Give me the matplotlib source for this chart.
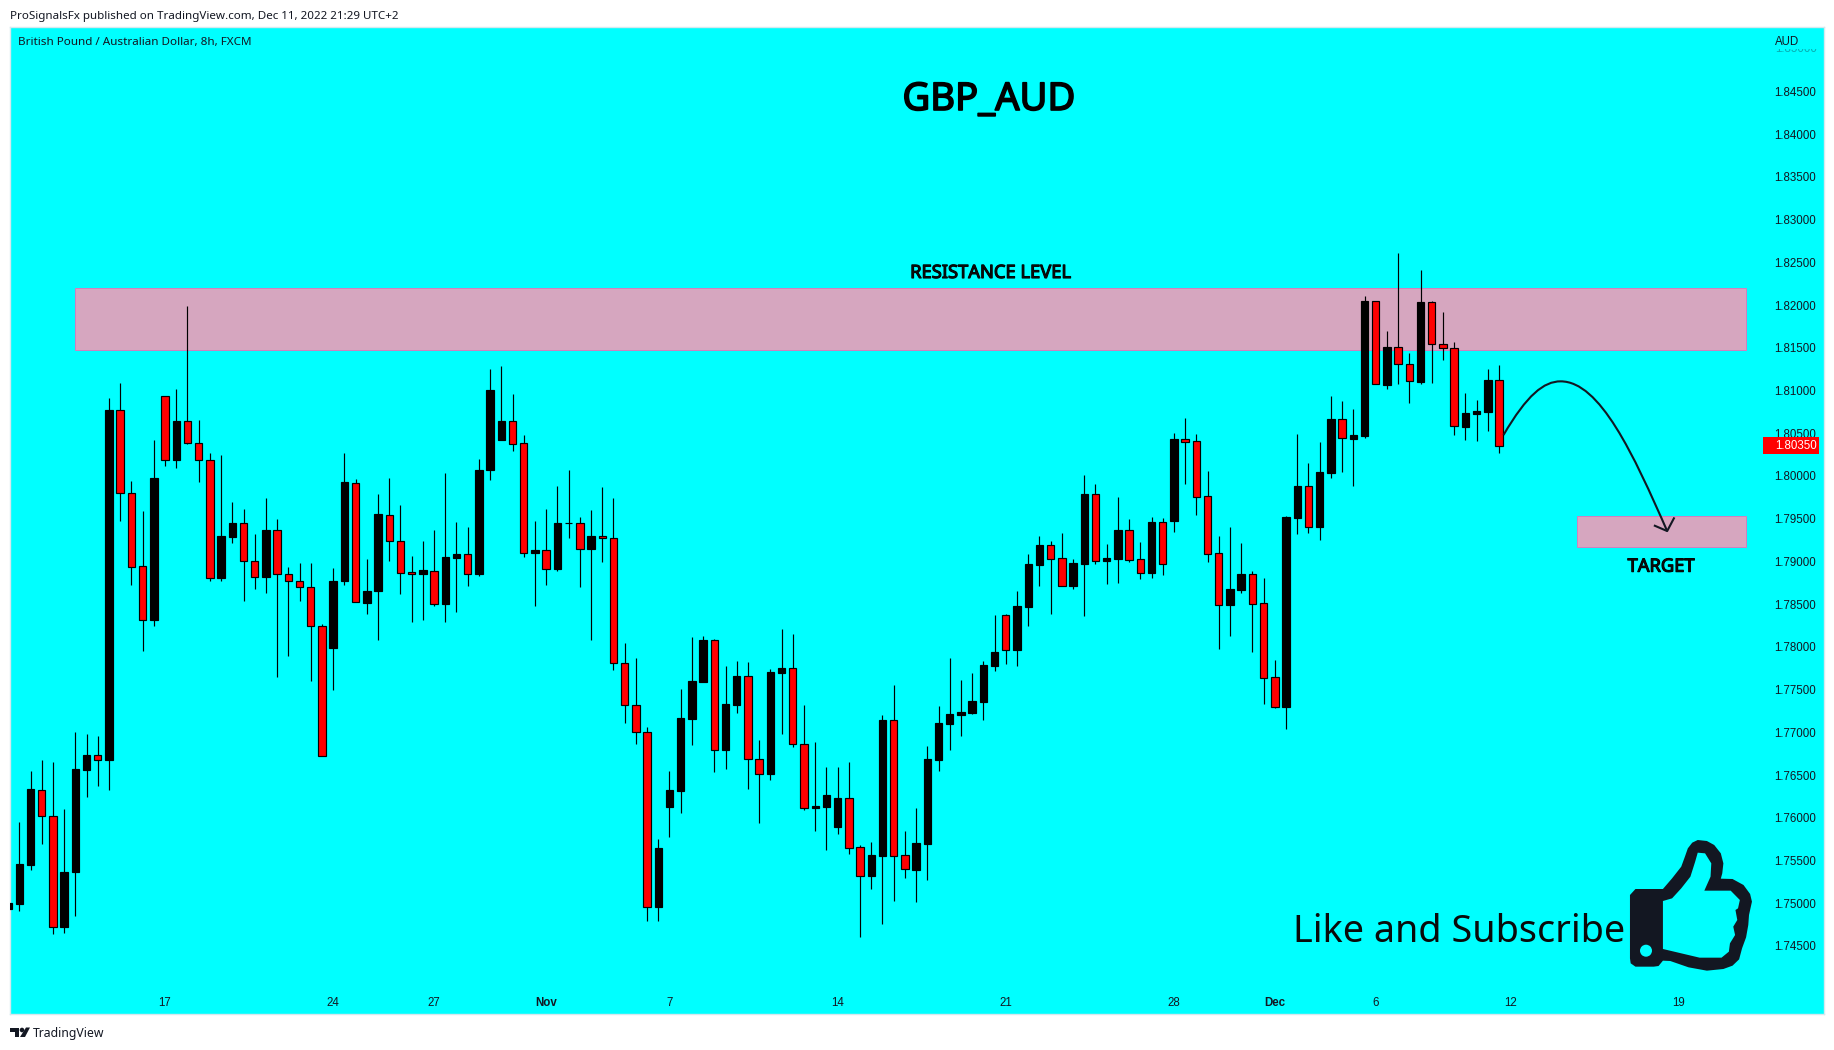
import matplotlib
matplotlib.use('Agg')
import matplotlib.pyplot as plt
import matplotlib.patheffects as pe
from matplotlib.patches import PathPatch, Rectangle, Circle
from matplotlib.path import Path

# GBP/AUD 8h candles
opens = [1.74934, 1.74995, 1.75452, 1.76330, 1.76025, 1.74716, 1.75361, 1.76558, 1.76731, 1.76670,
         1.80770, 1.79806, 1.78943, 1.78309, 1.80933, 1.80182, 1.80644, 1.80390, 1.80192, 1.78801,
         1.79289, 1.79446, 1.79009, 1.78812, 1.79365, 1.78857, 1.78776, 1.78695, 1.78248, 1.77989,
         1.78766, 1.79923, 1.78517, 1.78649, 1.79547, 1.79233, 1.78872, 1.78847, 1.78893, 1.78507,
         1.79045, 1.79083, 1.78856, 1.80064, 1.80425, 1.80642, 1.80383, 1.79097, 1.79129, 1.78916,
         1.79445, 1.79449, 1.79148, 1.79296, 1.79273, 1.77806, 1.77325, 1.77001, 1.74951, 1.76131,
         1.76316, 1.77158, 1.77593, 1.78079, 1.76797, 1.77325, 1.77658, 1.76682, 1.76515, 1.77699,
         1.77750, 1.76857, 1.76117, 1.76131, 1.75895, 1.76228, 1.75654, 1.75321, 1.75557, 1.77140,
         1.75559, 1.75388, 1.75692, 1.76676, 1.77101, 1.77203, 1.77226, 1.77355, 1.77776, 1.78369,
         1.77963, 1.78466, 1.78958, 1.79188, 1.79036, 1.78712, 1.78970, 1.79785, 1.79005, 1.79028,
         1.79364, 1.79024, 1.78864, 1.79457, 1.79473, 1.80429, 1.80405, 1.79762, 1.79095, 1.78490,
         1.78665, 1.78849, 1.78509, 1.77643, 1.77296, 1.79508, 1.79879, 1.79403, 1.80038, 1.80662,
         1.80436, 1.80471, 1.82043, 1.81068, 1.81505, 1.81306, 1.81103, 1.82032, 1.81540, 1.81493,
         1.80576, 1.80729, 1.80748, 1.81119]
highs = [1.75000, 1.75949, 1.76548, 1.76675, 1.76655, 1.76101, 1.77005, 1.76979, 1.76959, 1.80913,
         1.81085, 1.79943, 1.79588, 1.80420, 1.80933, 1.81019, 1.81988, 1.80654, 1.80263, 1.80243,
         1.79695, 1.79613, 1.79319, 1.79740, 1.79497, 1.78933, 1.78979, 1.78979, 1.78269, 1.78923,
         1.80268, 1.79964, 1.79030, 1.79791, 1.79974, 1.79659, 1.79065, 1.79238, 1.79370, 1.80035,
         1.79461, 1.79402, 1.80198, 1.81253, 1.81286, 1.80957, 1.80480, 1.79472, 1.79615, 1.79884,
         1.80069, 1.79518, 1.79601, 1.79870, 1.79740, 1.78047, 1.77871, 1.77061, 1.75751, 1.76547,
         1.77505, 1.78116, 1.78125, 1.78093, 1.77778, 1.77834, 1.77824, 1.76908, 1.77741, 1.78209,
         1.78148, 1.77320, 1.76885, 1.76593, 1.76593, 1.76654, 1.75686, 1.75714, 1.77200, 1.77551,
         1.75844, 1.76113, 1.76840, 1.77308, 1.77870, 1.77612, 1.77690, 1.77835, 1.78373, 1.78385,
         1.78654, 1.79087, 1.79297, 1.79239, 1.79333, 1.79028, 1.80011, 1.79906, 1.79204, 1.79754,
         1.79496, 1.79227, 1.79520, 1.79508, 1.80503, 1.80678, 1.80491, 1.80058, 1.79297, 1.79403,
         1.79215, 1.78884, 1.78806, 1.77846, 1.79531, 1.80491, 1.80152, 1.80397, 1.80935, 1.80877,
         1.80783, 1.82106, 1.82043, 1.81696, 1.82605, 1.81439, 1.82410, 1.82043, 1.81918, 1.81567,
         1.80970, 1.80889, 1.81251, 1.81298]
lows = [1.74934, 1.74909, 1.75391, 1.75695, 1.74640, 1.74655, 1.74848, 1.76239, 1.76376, 1.76330,
        1.79476, 1.78725, 1.77954, 1.78248, 1.80116, 1.80096, 1.80375, 1.79928, 1.78771, 1.78766,
        1.79218, 1.78532, 1.78675, 1.78634, 1.77649, 1.77898, 1.78532, 1.77604, 1.76726, 1.77497,
        1.78725, 1.78522, 1.78390, 1.78081, 1.79004, 1.78619, 1.78289, 1.78309, 1.78477, 1.78289,
        1.78406, 1.78713, 1.78829, 1.79953, 1.80425, 1.80291, 1.79051, 1.78477, 1.78722, 1.78889,
        1.79273, 1.78699, 1.78079, 1.78995, 1.77727, 1.77107, 1.76862, 1.74794, 1.74794, 1.75775,
        1.76057, 1.76853, 1.77593, 1.76533, 1.76571, 1.77228, 1.76334, 1.75936, 1.76441, 1.76982,
        1.76829, 1.76089, 1.75844, 1.75622, 1.75811, 1.75576, 1.74599, 1.75168, 1.74757, 1.75025,
        1.75293, 1.75010, 1.75271, 1.76547, 1.76793, 1.76961, 1.77214, 1.77144, 1.77718, 1.77799,
        1.77776, 1.78244, 1.78712, 1.78385, 1.78716, 1.78677, 1.78361, 1.78970, 1.78736, 1.78747,
        1.78993, 1.78794, 1.78806, 1.78841, 1.79344, 1.79906, 1.79543, 1.78993, 1.77975, 1.78127,
        1.78630, 1.77940, 1.77331, 1.77284, 1.77039, 1.79321, 1.79333, 1.79251, 1.79976, 1.80046,
        1.79882, 1.80444, 1.81072, 1.81017, 1.81076, 1.80853, 1.81076, 1.81087, 1.81357, 1.80479,
        1.80420, 1.80409, 1.80526, 1.80268]
closes = [1.75000, 1.75457, 1.76335, 1.76025, 1.74716, 1.75366, 1.76568, 1.76736, 1.76670, 1.80770,
          1.79806, 1.78938, 1.78309, 1.79974, 1.80182, 1.80644, 1.80390, 1.80192, 1.78801, 1.79299,
          1.79451, 1.79009, 1.78812, 1.79370, 1.78857, 1.78776, 1.78695, 1.78248, 1.76726, 1.78771,
          1.79928, 1.78522, 1.78654, 1.79552, 1.79233, 1.78867, 1.78847, 1.78898, 1.78507, 1.79050,
          1.79086, 1.78856, 1.80069, 1.81008, 1.80642, 1.80379, 1.79102, 1.79134, 1.78916, 1.79449,
          1.79449, 1.79148, 1.79296, 1.79268, 1.77806, 1.77325, 1.77001, 1.74951, 1.75645, 1.76325,
          1.77167, 1.77602, 1.78079, 1.76797, 1.77329, 1.77658, 1.76682, 1.76515, 1.77704, 1.77750,
          1.76857, 1.76117, 1.76135, 1.76265, 1.76233, 1.75650, 1.75321, 1.75566, 1.77144, 1.75557,
          1.75395, 1.75704, 1.76687, 1.77109, 1.77214, 1.77238, 1.77366, 1.77788, 1.77940, 1.77967,
          1.78478, 1.78970, 1.79192, 1.79032, 1.78716, 1.78981, 1.79789, 1.79009, 1.79040, 1.79368,
          1.79020, 1.78868, 1.79461, 1.78974, 1.80433, 1.80401, 1.79758, 1.79091, 1.78494, 1.78677,
          1.78853, 1.78505, 1.77639, 1.77300, 1.79520, 1.79883, 1.79407, 1.80046, 1.80662, 1.80440,
          1.80475, 1.82047, 1.81072, 1.81509, 1.81306, 1.81107, 1.82035, 1.81540, 1.81493, 1.80580,
          1.80732, 1.80760, 1.81123, 1.80350]

dayTicks = [14, 29, 38, 48, 59, 74, 89, 104, 113, 122, 134, 149]
dayLabels = ['17', '24', '27', 'Nov', '7', '14', '21', '28', 'Dec', '6', '12', '19']
priceTicks = [1.745, 1.75, 1.755, 1.76, 1.765, 1.77, 1.775, 1.78, 1.785, 1.79, 1.795, 1.80,
              1.805, 1.81, 1.815, 1.82, 1.825, 1.83, 1.835, 1.84, 1.845]

lastPrice = 1.80350
resistanceZone = (1.81471, 1.82202)
targetZone = (1.79164, 1.79531)

W, H = 1834, 1050
bgColor = '#00ffff'
iconColor = '#131722'

fig = plt.figure(figsize=(W / 100, H / 100), dpi=100, facecolor='white')
# chart pane in image pixels: x 10-1824, y 27-1014
ax = fig.add_axes([10 / W, 1 - 1014 / H, 1814 / W, 987 / H], facecolor=bgColor)
ax.set_xlim(0.17, 161.99)
ax.set_ylim(1.73703, 1.85254)
for spine in ax.spines.values():
    spine.set_color('#d5e8ee')
    spine.set_linewidth(1)


def px(x, y):
    return x / W, 1 - y / H


def heavy(width):
    return [pe.withStroke(linewidth=width, foreground='black')]


# candles
for i in range(len(opens)):
    rising = closes[i] >= opens[i]
    fill = 'black' if rising else '#ff0000'
    ax.vlines(i, lows[i], highs[i], color='black', lw=0.85, zorder=3)
    ax.add_patch(Rectangle((i - 0.33, min(opens[i], closes[i])), 0.66, abs(closes[i] - opens[i]),
                           facecolor=fill, edgecolor='black', lw=0.85, zorder=4))

# drawn zones
ax.add_patch(Rectangle((6, resistanceZone[0]), 149, resistanceZone[1] - resistanceZone[0],
                       facecolor='#d6a6bf', edgecolor='#d27fc0', lw=0.7, zorder=2))
ax.add_patch(Rectangle((140, targetZone[0]), 15, targetZone[1] - targetZone[0],
                       facecolor='#d6a6bf', edgecolor='#d27fc0', lw=0.7, zorder=2))

# hand drawn arrow
arrowVerts = [(133.4, 1.80479), (135.5, 1.8095), (137.0, 1.81107), (138.5, 1.81107),
              (142.0, 1.81107), (145.0, 1.8025), (148.0, 1.79355)]
arrowCodes = [Path.MOVETO] + [Path.CURVE4] * 6
ax.add_patch(PathPatch(Path(arrowVerts, arrowCodes), fc='none', ec=iconColor, lw=1.5, zorder=5))
ax.plot([146.9, 148.0, 148.6], [1.79417, 1.79355, 1.79504], color=iconColor, lw=1.5, zorder=5)

# axis labels
ax.yaxis.tick_right()
ax.set_yticks(priceTicks)
ax.set_yticklabels(['%.5f' % p for p in priceTicks], family='Liberation Sans', fontsize=8.3, color='#131722')
ax.tick_params(axis='y', length=0, pad=-36)
ax.set_xticks(dayTicks)
ax.set_xticklabels(dayLabels, family='Liberation Sans', fontsize=8.3, color='#131722')
ax.tick_params(axis='x', length=0, pad=-12)
for lab in ax.get_xticklabels():
    if lab.get_text() in ('Nov', 'Dec'):
        lab.set_fontweight('bold')

# last price tag
ax.add_patch(Rectangle((156.55, lastPrice - 0.00099), 4.95, 0.00199, facecolor='#ff0000', edgecolor='none', zorder=6))
ax.text(157.6, lastPrice, '%.5f' % lastPrice, family='Liberation Sans', fontsize=8.3, color='white',
        va='center', ha='left', zorder=7)

# texts in the pane
fig.text(*px(1775, 42), 'AUD', family='Liberation Sans', fontsize=8.3, color='#131722', va='center')
ghost = fig.text(*px(1775, 49), '1.85000', family='Liberation Sans', fontsize=8.3, color='#131722', alpha=0.35, va='center')
ghost.set_clip_path(Rectangle((0, 0), W, 1050 - 49, transform=None))
fig.text(*px(10, 16), 'ProSignalsFx published on TradingView.com, Dec 11, 2022 21:29 UTC+2',
         family='Noto Sans', fontsize=8.35, color='#131722', va='center')
fig.text(*px(18, 42), 'British Pound / Australian Dollar, 8h, FXCM',
         family='Noto Sans', fontsize=8.4, color='#131722', va='center')
fig.text(*px(989, 110), 'GBP_AUD', family='Noto Sans', fontsize=27.5, color='black', ha='center', va='baseline',
         path_effects=heavy(1.2))
fig.text(*px(990.5, 278), 'RESISTANCE LEVEL', family='Noto Sans', fontsize=13.2, color='#0a0a0a', ha='center', va='baseline',
         path_effects=heavy(0.8))
fig.text(*px(1661, 571.7), 'TARGET', family='Noto Sans', fontsize=13.2, color='#0a0a0a', ha='center', va='baseline',
         path_effects=heavy(0.8))
fig.text(*px(1293, 941.7), 'Like and Subscribe', family='Noto Sans', fontsize=27.2, color='#0a0a0a', ha='left', va='baseline')

# thumbs up icon, outline
outer = [(1010, 225), (1025, 207), (1100, 207), (1125, 175), (1150, 140), (1160, 110), (1168, 85), (1180, 68),
         (1195, 60), (1220, 63), (1240, 75), (1258, 100), (1265, 130), (1262, 160), (1258, 176), (1290, 177),
         (1320, 195), (1338, 222), (1343, 245), (1335, 285), (1333, 315), (1327, 352), (1316, 385), (1308, 418),
         (1290, 437), (1265, 447), (1220, 452), (1170, 442), (1120, 423), (1100, 422), (1088, 438), (1075, 440),
         (1025, 440), (1012, 430), (1010, 415)]
inner = [(1100, 243), (1125, 235), (1150, 205), (1175, 170), (1188, 125), (1195, 98), (1215, 100), (1232, 130),
         (1230, 170), (1213, 212), (1285, 212), (1310, 240), (1305, 265), (1298, 270), (1303, 300), (1292, 320),
         (1297, 345), (1283, 370), (1280, 395), (1260, 413), (1200, 413), (1150, 400), (1100, 387)]


def iconPoint(p):
    return px(1260 + p[0] / 2.73, 820 + p[1] / 3)


verts, codes = [], []
for ring in (outer, inner[::-1]):
    verts += [iconPoint(p) for p in ring] + [iconPoint(ring[0])]
    codes += [Path.MOVETO] + [Path.LINETO] * (len(ring) - 1) + [Path.CLOSEPOLY]
fig.add_artist(PathPatch(Path(verts, codes), fc=iconColor, ec='none', transform=fig.transFigure, zorder=8))
dotX, dotY = px(1646, 950.7)
fig.add_artist(Circle((dotX * W, dotY * H), 6, fc=bgColor, ec='none', zorder=9, transform=None))

# TradingView footer
logo1 = [(10, 1027.5), (19, 1027.5), (19, 1037), (14.5, 1037), (14.5, 1031.5), (10, 1031.5)]
logo2 = [(26, 1027.5), (30, 1027.5), (25, 1037), (20, 1037)]
for poly in (logo1, logo2):
    fig.add_artist(plt.Polygon([px(*p) for p in poly], closed=True, fc=iconColor, ec='none', transform=fig.transFigure))
fig.add_artist(Circle((22, 1050 - 1030), 2.3, fc=iconColor, ec='none', transform=None))
fig.text(*px(33, 1033), 'TradingView', family='Noto Sans', fontsize=8.8, color='#131722', va='center')

fig.savefig('out.png', dpi=100, facecolor='white')
